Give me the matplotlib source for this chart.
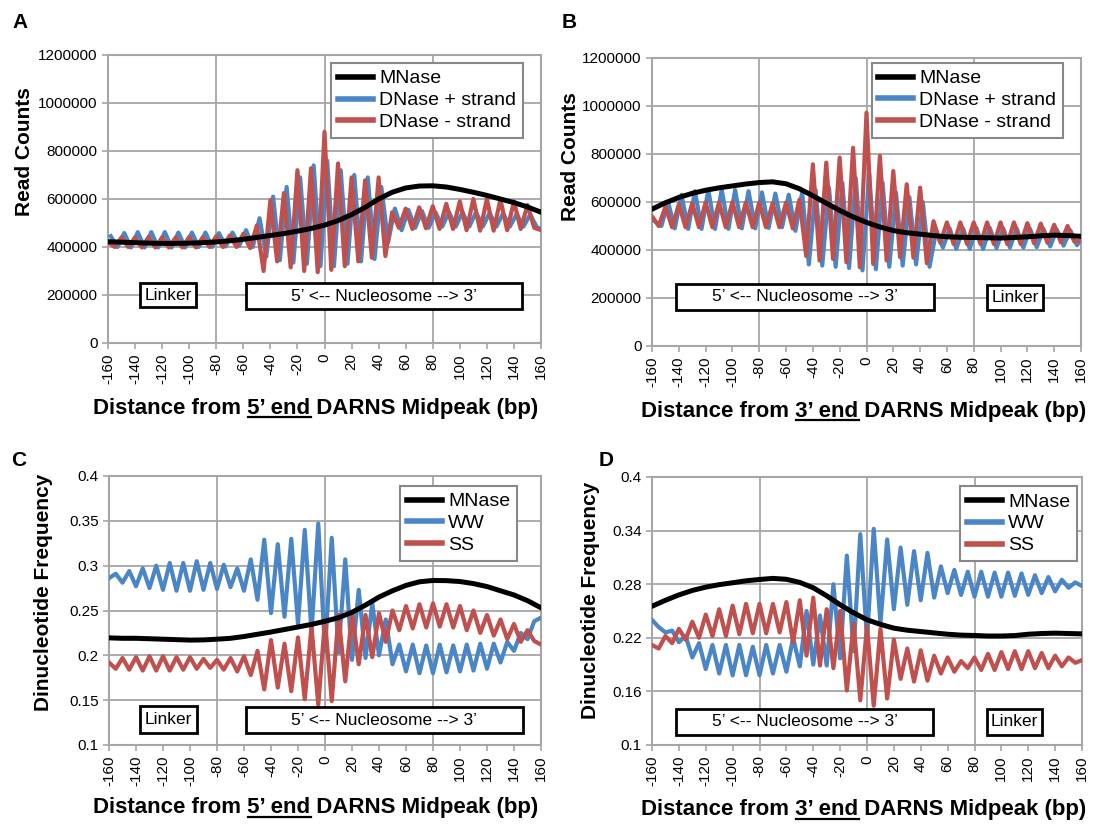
import numpy as np
import matplotlib.pyplot as plt
from matplotlib.patches import Rectangle
from matplotlib.lines import Line2D

plt.rcParams['font.family'] = ['Liberation Sans', 'DejaVu Sans']

# positions (bp) of the sampled points
pos5 = np.arange(-160, 161, 5)      # oscillating curves: one point per peak / trough
pos10 = np.arange(-160, 161, 10)    # MNase curves
xticks = np.arange(-160, 161, 20)

# ---- panel A (read counts, thousands) ----
a_mnase = [422, 420, 418, 416, 415, 415, 416, 418, 421, 426, 432, 440, 448, 456, 466, 477, 491,
           510, 535, 565, 600, 628, 646, 654, 655, 650, 640, 628, 615, 600, 585, 567, 545]
a_plus = [445, 400, 458, 398, 462, 398, 462, 398, 462, 398, 460, 398, 460, 400, 460, 400, 458,
          402, 460, 405, 470, 400, 520, 360, 610, 345, 650, 335, 690, 330, 740, 320, 760, 320,
          720, 330, 700, 340, 690, 350, 650, 420, 560, 470, 555, 480, 550, 480, 545, 485, 545,
          485, 545, 485, 545, 485, 542, 485, 540, 485, 538, 485, 535, 482, 470]
a_minus = [420, 400, 440, 400, 440, 398, 442, 398, 440, 398, 440, 398, 442, 398, 440, 400, 445,
           400, 448, 400, 455, 395, 490, 300, 595, 340, 625, 315, 720, 300, 728, 295, 880, 305,
           748, 320, 690, 340, 678, 355, 690, 362, 545, 480, 560, 475, 565, 478, 570, 475, 580,
           475, 590, 470, 600, 468, 600, 468, 598, 470, 590, 475, 575, 480, 470]

# ---- panel B (read counts, thousands) ----
b_mnase = [570, 597, 619, 636, 649, 659, 667, 675, 681, 684, 676, 655, 626, 595, 565, 538, 515,
           496, 481, 472, 466, 460, 455, 453, 452, 451, 450, 452, 455, 459, 462, 460, 457]
b_plus = [520, 500, 600, 490, 630, 488, 645, 488, 650, 488, 652, 488, 650, 490, 645, 490, 640,
          492, 635, 495, 630, 480, 640, 340, 650, 335, 660, 330, 680, 325, 700, 315, 720, 320,
          680, 330, 640, 335, 620, 340, 600, 330, 480, 410, 490, 405, 490, 405, 492, 405, 492,
          408, 490, 410, 490, 410, 488, 412, 488, 415, 485, 418, 482, 420, 460]
b_minus = [540, 500, 580, 495, 590, 495, 595, 495, 598, 495, 598, 495, 600, 495, 598, 495, 598,
           495, 595, 495, 598, 490, 610, 375, 757, 356, 764, 363, 785, 349, 826, 328, 972, 342,
           792, 356, 729, 370, 674, 368, 660, 345, 520, 430, 515, 425, 515, 425, 515, 425, 515,
           425, 515, 425, 515, 425, 512, 428, 510, 430, 505, 432, 500, 435, 440]

# ---- panel C (dinucleotide frequency) ----
c_mnase = [0.2195, 0.219, 0.219, 0.2185, 0.218, 0.2175, 0.217, 0.2172, 0.218, 0.219, 0.221,
           0.2235, 0.226, 0.2288, 0.2316, 0.2345, 0.238, 0.242, 0.248, 0.256, 0.265, 0.272,
           0.278, 0.282, 0.2835, 0.2833, 0.2823, 0.280, 0.2767, 0.272, 0.2673, 0.261, 0.253]
c_ww = [0.286, 0.291, 0.281, 0.294, 0.277, 0.297, 0.275, 0.300, 0.273, 0.303, 0.272, 0.303,
        0.272, 0.305, 0.273, 0.303, 0.274, 0.301, 0.276, 0.297, 0.272, 0.307, 0.262, 0.329,
        0.247, 0.324, 0.243, 0.330, 0.235, 0.340, 0.226, 0.347, 0.205, 0.331, 0.203, 0.307,
        0.195, 0.273, 0.197, 0.258, 0.200, 0.240, 0.190, 0.212, 0.182, 0.212, 0.180, 0.211,
        0.180, 0.212, 0.181, 0.211, 0.182, 0.212, 0.183, 0.213, 0.185, 0.213, 0.192, 0.215,
        0.205, 0.225, 0.218, 0.238, 0.242]
c_ss = [0.192, 0.185, 0.197, 0.184, 0.198, 0.183, 0.199, 0.183, 0.199, 0.183, 0.198, 0.184,
        0.198, 0.185, 0.196, 0.186, 0.195, 0.184, 0.197, 0.182, 0.199, 0.178, 0.205, 0.162,
        0.217, 0.164, 0.213, 0.160, 0.220, 0.151, 0.232, 0.145, 0.239, 0.149, 0.245, 0.171,
        0.247, 0.190, 0.245, 0.198, 0.247, 0.215, 0.250, 0.228, 0.255, 0.230, 0.257, 0.231,
        0.258, 0.232, 0.257, 0.231, 0.255, 0.228, 0.250, 0.225, 0.245, 0.222, 0.240, 0.218,
        0.235, 0.215, 0.228, 0.216, 0.212]

# ---- panel D (dinucleotide frequency) ----
d_mnase = [0.2553, 0.262, 0.268, 0.273, 0.2767, 0.2795, 0.2816, 0.2838, 0.2853, 0.2865,
           0.2855, 0.282, 0.276, 0.267, 0.257, 0.248, 0.2402, 0.235, 0.2308, 0.2285, 0.227,
           0.2255, 0.224, 0.223, 0.2226, 0.222, 0.222, 0.2225, 0.224, 0.2248, 0.2252, 0.2248,
           0.2244]
d_ww = [0.240, 0.232, 0.226, 0.228, 0.215, 0.222, 0.198, 0.214, 0.185, 0.212, 0.180, 0.212,
        0.178, 0.212, 0.178, 0.210, 0.178, 0.212, 0.180, 0.212, 0.182, 0.220, 0.188, 0.250,
        0.190, 0.245, 0.189, 0.280, 0.197, 0.312, 0.205, 0.336, 0.218, 0.342, 0.236, 0.330,
        0.252, 0.321, 0.257, 0.317, 0.262, 0.315, 0.265, 0.300, 0.270, 0.296, 0.268, 0.294,
        0.266, 0.294, 0.266, 0.293, 0.266, 0.293, 0.267, 0.292, 0.268, 0.290, 0.270, 0.288,
        0.272, 0.285, 0.276, 0.282, 0.278]
d_ss = [0.212, 0.208, 0.222, 0.214, 0.230, 0.218, 0.238, 0.220, 0.246, 0.222, 0.252, 0.222,
        0.256, 0.224, 0.258, 0.225, 0.258, 0.225, 0.258, 0.226, 0.260, 0.215, 0.262, 0.200,
        0.265, 0.189, 0.252, 0.186, 0.250, 0.161, 0.236, 0.150, 0.233, 0.144, 0.230, 0.152,
        0.218, 0.174, 0.208, 0.171, 0.206, 0.172, 0.200, 0.180, 0.198, 0.182, 0.194, 0.186,
        0.198, 0.184, 0.202, 0.184, 0.204, 0.185, 0.205, 0.185, 0.205, 0.186, 0.203, 0.186,
        0.200, 0.188, 0.198, 0.192, 0.195]

BLUE = '#4a86c6'
RED = '#c0504d'
GRID = '#a6a6a6'

W, H = 1096, 824
fig = plt.figure(figsize=(W / 100, H / 100), dpi=100)


def px_rect(x0, y0, x1, y1):
    return [x0 / W, 1 - y1 / H, (x1 - x0) / W, (y1 - y0) / H]


def make_panel(rect, mn, blue, red, blue_shift, names, ylim, yticks, ylabels, legend_anchor,
               boxes):
    ax = fig.add_axes(px_rect(*rect))
    ax.plot(pos5 + blue_shift, blue, color=BLUE, lw=3.0, zorder=3, label=names[1])
    ax.plot(pos5, red, color=RED, lw=3.0, zorder=4, label=names[2])
    ax.plot(pos10, mn, color='black', lw=3.6, zorder=5, label=names[0])
    ax.set_xlim(-160, 160)
    ax.set_ylim(*ylim)
    ax.set_xticks(xticks)
    ax.set_xticklabels([str(v) for v in xticks], rotation=90, fontsize=11)
    ax.set_yticks(yticks)
    ax.set_yticklabels(ylabels, fontsize=11)
    ax.tick_params(colors=GRID, labelcolor='black', length=4, width=1.2)
    for s in ax.spines.values():
        s.set_color(GRID)
        s.set_linewidth(1.5)
    for yv in yticks:
        ax.axhline(yv, color=GRID, lw=1.3, zorder=1)
    for xv in (-80, 0, 80):
        ax.axvline(xv, color=GRID, lw=1.3, zorder=1)
    for (x0, x1, y0, y1, txt) in boxes:
        ax.add_patch(Rectangle((x0, y0), x1 - x0, y1 - y0, facecolor='white',
                               edgecolor='black', lw=2, zorder=6))
        ax.text((x0 + x1) / 2, (y0 + y1) / 2, txt, ha='center', va='center',
                fontsize=12.5, zorder=7)
    h, l = ax.get_legend_handles_labels()
    leg = ax.legend([h[2], h[0], h[1]], [l[2], l[0], l[1]], loc='upper right',
                    bbox_to_anchor=legend_anchor, fontsize=14, fancybox=False,
                    edgecolor='#888888', framealpha=1, handlelength=1.8,
                    handletextpad=0.3, borderpad=0.35, labelspacing=0.22,
                    borderaxespad=0)
    leg.get_frame().set_linewidth(1.5)
    for line in leg.get_lines():
        line.set_linewidth(4)
    return ax


nuc = '5’ <-- Nucleosome --> 3’'
count_ticks = np.arange(0, 1200001, 200000)
count_labels = [str(v) for v in count_ticks]
dnase_names = ['MNase', 'DNase + strand', 'DNase - strand']
dinuc_names = ['MNase', 'WW', 'SS']

make_panel((108, 55, 541, 343), np.array(a_mnase) * 1000, np.array(a_plus) * 1000,
           np.array(a_minus) * 1000, 2, dnase_names, (0, 1200000), count_ticks, count_labels,
           (0.958, 0.972),
           [(-136, -95, 148000, 250000, 'Linker'), (-58, 146, 142000, 248000, nuc)])
make_panel((652, 58, 1081, 346), np.array(b_mnase) * 1000, np.array(b_plus) * 1000,
           np.array(b_minus) * 1000, 2, dnase_names, (0, 1200000), count_ticks, count_labels,
           (0.958, 0.983),
           [(-142, 50, 151000, 259000, nuc), (90, 132, 151000, 256000, 'Linker')])
c_ticks = [0.1, 0.15, 0.2, 0.25, 0.3, 0.35, 0.4]
make_panel((109, 476, 541, 745), c_mnase, c_ww, c_ss, 0, dinuc_names, (0.1, 0.4), c_ticks,
           ['0.1', '0.15', '0.2', '0.25', '0.3', '0.35', '0.4'], (0.944, 0.963),
           [(-137, -95, 0.113, 0.143, 'Linker'), (-58.5, 146.5, 0.113, 0.142, nuc)])
d_ticks = [0.1, 0.16, 0.22, 0.28, 0.34, 0.4]
make_panel((652, 477, 1082, 745), d_mnase, d_ww, d_ss, 0, dinuc_names, (0.1, 0.4), d_ticks,
           ['0.1', '0.16', '0.22', '0.28', '0.34', '0.4'], (0.988, 0.966),
           [(-142, 49, 0.1113, 0.1406, nuc), (89, 130, 0.1113, 0.1406, 'Linker')])

# panel letters and axis titles
for letter, x, y in [('A', 20, 22), ('B', 569, 22), ('C', 19, 460), ('D', 606, 460)]:
    fig.text(x / W, 1 - y / H, letter, fontsize=15, fontweight='bold', ha='center', va='center')
for txt, x, y in [('Read Counts', 25, 152), ('Read Counts', 570, 157),
                  ('Dinucleotide Frequency', 44, 592), ('Dinucleotide Frequency', 590, 600)]:
    fig.text(x / W, 1 - y / H, txt, fontsize=15, fontweight='bold', rotation=90,
             ha='center', va='center')

xlabels = []
for end, x, y in [('5’ end', 316, 409), ('3’ end', 864, 411), ('5’ end', 316, 808),
                  ('3’ end', 864, 810)]:
    t = fig.text(x / W, 1 - y / H, 'Distance from ' + end + ' DARNS Midpeak (bp)',
                 fontsize=16, fontweight='bold', ha='center', va='center')
    xlabels.append((t, end))

# underline the "5' end" / "3' end" part of each x title
fig.canvas.draw()
renderer = fig.canvas.get_renderer()
for t, end in xlabels:
    bb = t.get_window_extent(renderer)
    prop = t.get_fontproperties()
    full = 'Distance from ' + end
    w_full, _, _ = renderer.get_text_width_height_descent(full, prop, ismath=False)
    w_end, _, _ = renderer.get_text_width_height_descent(end, prop, ismath=False)
    _, _, desc = renderer.get_text_width_height_descent(t.get_text(), prop, ismath=False)
    xs = bb.x0 + w_full - w_end
    xe = bb.x0 + w_full
    yb = bb.y0 + desc - 3
    fig.add_artist(Line2D([xs / W, xe / W], [yb / H, yb / H], color='black', lw=1.6,
                          transform=fig.transFigure))

fig.savefig('out.png', dpi=100)
